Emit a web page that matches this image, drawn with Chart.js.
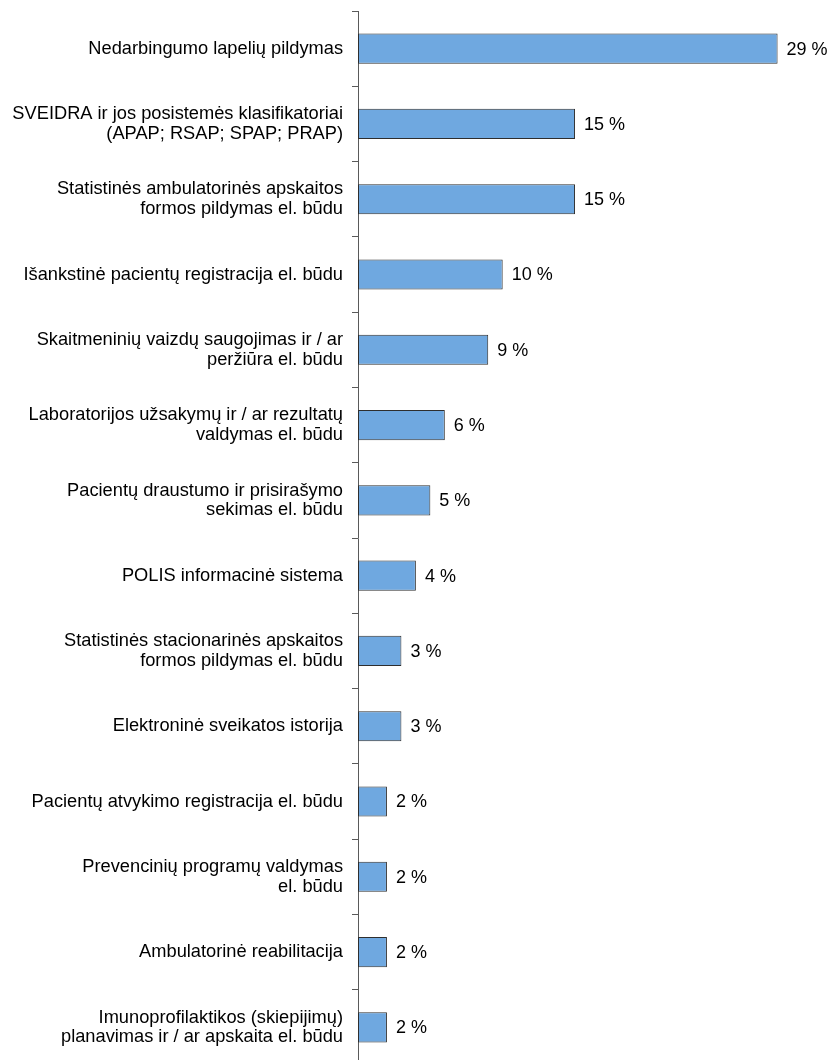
<!DOCTYPE html>
<html lang="lt">
<head>
    <meta charset="UTF-8">
    <title>eSveikatos paslaugų naudojimas</title>
    <script src="https://cdn.jsdelivr.net/npm/chart.js"></script>
    <style>
        html, body { margin: 0; padding: 0; background: #fff; overflow: hidden; }
        #wrap { width: 831px; height: 1065px; position: relative; }
    </style>
</head>
<body>
<div id="wrap"><canvas id="usageChart"></canvas></div>

<script>
    // categories (multi-line labels) and shares in percent
    const categories = [
        ["Nedarbingumo lapelių pildymas"],
        ["SVEIDRA ir jos posistemės klasifikatoriai", "(APAP; RSAP; SPAP; PRAP)"],
        ["Statistinės ambulatorinės apskaitos", "formos pildymas el. būdu"],
        ["Išankstinė pacientų registracija el. būdu"],
        ["Skaitmeninių vaizdų saugojimas ir / ar", "peržiūra el. būdu"],
        ["Laboratorijos užsakymų ir / ar rezultatų", "valdymas el. būdu"],
        ["Pacientų draustumo ir prisirašymo", "sekimas el. būdu"],
        ["POLIS informacinė sistema"],
        ["Statistinės stacionarinės apskaitos", "formos pildymas el. būdu"],
        ["Elektroninė sveikatos istorija"],
        ["Pacientų atvykimo registracija el. būdu"],
        ["Prevencinių programų valdymas", "el. būdu"],
        ["Ambulatorinė reabilitacija"],
        ["Imunoprofilaktikos (skiepijimų)", "planavimas ir / ar apskaita el. būdu"]
    ];
    const shares = [29, 15, 15, 10, 9, 6, 5, 4, 3, 3, 2, 2, 2, 2];

    const fontFamily = '"Liberation Sans", Arial, sans-serif';

    // draws "NN %" just right of each bar
    const valueLabels = {
        id: 'valueLabels',
        afterDatasetsDraw(chart) {
            const ctx = chart.ctx;
            const meta = chart.getDatasetMeta(0);
            ctx.save();
            ctx.font = '18px ' + fontFamily;
            ctx.fillStyle = '#000';
            ctx.textAlign = 'left';
            ctx.textBaseline = 'middle';
            meta.data.forEach((bar, i) => {
                ctx.fillText(shares[i] + ' %', bar.x + 9, bar.y + 1);
            });
            ctx.restore();
        }
    };

    new Chart(document.getElementById('usageChart'), {
        type: 'bar',
        data: {
            labels: categories,
            datasets: [{
                data: shares,
                backgroundColor: '#6fa8e0',
                borderColor: '#2e2e2e',
                borderWidth: 1,
                borderSkipped: false,
                barPercentage: 0.8,
                categoryPercentage: 0.5
            }]
        },
        options: {
            indexAxis: 'y',
            responsive: true,
            maintainAspectRatio: false,
            animation: false,
            layout: { padding: { top: 11, right: 10, bottom: 0, left: 0 } },
            plugins: {
                legend: { display: false },
                tooltip: { enabled: false }
            },
            scales: {
                x: {
                    display: false,
                    min: 0,
                    max: 32
                },
                y: {
                    afterFit(scale) {
                        scale.width = 358;
                        scale.paddingTop = 0;
                        scale.paddingBottom = 0;
                    },
                    border: { display: true, color: '#5a5a5a', width: 1 },
                    grid: {
                        offset: true,
                        drawOnChartArea: false,
                        drawTicks: true,
                        tickLength: 6,
                        tickColor: '#5a5a5a'
                    },
                    ticks: {
                        color: '#000',
                        padding: 9,
                        font: { family: fontFamily, size: 18.25, lineHeight: 1.08 }
                    }
                }
            }
        },
        plugins: [valueLabels]
    });
</script>
</body>
</html>
